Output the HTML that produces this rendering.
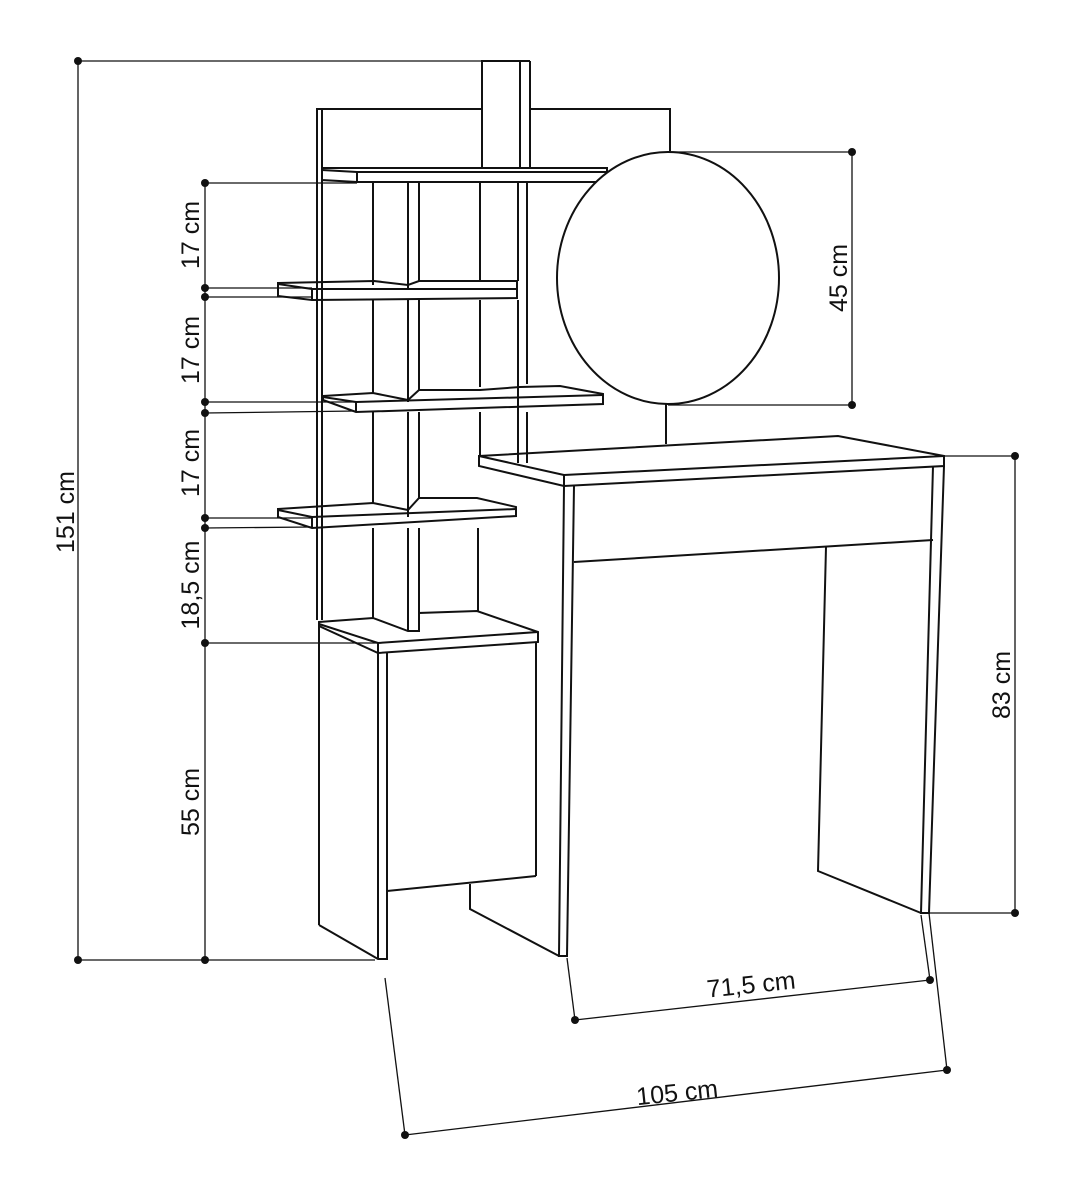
<!DOCTYPE html>
<html><head><meta charset="utf-8"><style>
html,body{margin:0;padding:0;background:#fff}
svg{display:block}
text{font-family:"Liberation Sans",sans-serif;font-size:25px;fill:#111}
</style></head><body>
<svg width="1076" height="1200" viewBox="0 0 1076 1200" xmlns="http://www.w3.org/2000/svg">
<g fill="none" stroke="#111" stroke-width="2" stroke-linejoin="miter">
<!-- back panel -->
<polyline points="482,109 317,109 317,620"/>
<line x1="322" y1="109" x2="322" y2="620"/>
<polyline points="530,109 670,109 670,151"/>
<line x1="666" y1="400" x2="666" y2="444"/>
<!-- post -->
<rect x="482" y="61" width="38" height="107"/>
<line x1="520" y1="61" x2="530" y2="61"/>
<line x1="530" y1="61" x2="530" y2="168"/>
<line x1="480" y1="182" x2="480" y2="282"/>
<line x1="480" y1="300" x2="480" y2="387"/>
<line x1="480" y1="412" x2="480" y2="456"/>
<line x1="518" y1="182" x2="518" y2="281"/>
<line x1="518" y1="300" x2="518" y2="463"/>
<line x1="527" y1="182" x2="527" y2="384"/>
<line x1="527" y1="412" x2="527" y2="463"/>
<!-- dividers -->
<line x1="373" y1="182" x2="373" y2="285"/><line x1="373" y1="300" x2="373" y2="393"/>
<line x1="373" y1="412" x2="373" y2="503"/><line x1="373" y1="528" x2="373" y2="618"/>
<line x1="408" y1="182" x2="408" y2="289"/><line x1="419" y1="182" x2="419" y2="282"/>
<line x1="408" y1="300" x2="408" y2="402"/><line x1="419" y1="300" x2="419" y2="390"/>
<line x1="408" y1="412" x2="408" y2="517"/><line x1="419" y1="412" x2="419" y2="498"/>
<line x1="408" y1="528" x2="408" y2="631"/><line x1="419" y1="528" x2="419" y2="613"/>
<line x1="408" y1="631" x2="419" y2="631"/><line x1="419" y1="613" x2="419" y2="631"/>
<line x1="478" y1="528" x2="478" y2="611"/>
<!-- shelf 1 -->
<polygon points="322,168 607,168 607,182 357,182 322,180"/>
<line x1="357" y1="172" x2="607" y2="172"/><line x1="357" y1="172" x2="357" y2="182"/><line x1="322" y1="170" x2="357" y2="172"/>
<!-- shelf 2 -->
<polygon points="278,283 374,281 408,285 419,281 517,281 517,298 312,300 278,296"/>
<line x1="312" y1="289" x2="517" y2="289"/><line x1="312" y1="289" x2="312" y2="300"/><line x1="278" y1="284" x2="312" y2="289"/>
<!-- shelf 3 -->
<polygon points="323,396 373,393 408,400 419,390 480,390 520,387 560,386 603,394 603,404 356,412 323,400"/>
<line x1="356" y1="402" x2="603" y2="395"/><line x1="356" y1="402" x2="356" y2="412"/><line x1="323" y1="397" x2="356" y2="402"/>
<!-- shelf 4 -->
<polygon points="278,509 373,503 408,510 419,498 477,498 516,507 516,516 312,528 278,517"/>
<line x1="312" y1="517" x2="516" y2="509"/><line x1="312" y1="517" x2="312" y2="528"/><line x1="278" y1="510" x2="312" y2="517"/>
<!-- cabinet -->
<polygon points="319,622 373,618 408,631 419,631 419,613 477,611 538,632 538,642 378,653 319,626"/>
<line x1="378" y1="643" x2="538" y2="632"/><line x1="378" y1="643" x2="378" y2="653"/><line x1="319" y1="624" x2="378" y2="643"/>
<line x1="319" y1="626" x2="319" y2="925"/>
<polyline points="319,925 378,959 387,959 387,653"/>
<line x1="378" y1="653" x2="378" y2="959"/>
<line x1="536" y1="642" x2="536" y2="876"/>
<line x1="387" y1="891" x2="536" y2="876"/>
<polyline points="470,884 470,909 559,956"/>
<!-- mirror -->
<ellipse cx="668" cy="278" rx="111" ry="126" fill="#fff"/>
<!-- desk top -->
<polygon points="479,456 838,436 944,456 944,466 564,486 479,466"/>
<line x1="564" y1="475" x2="944" y2="456"/><line x1="564" y1="475" x2="564" y2="486"/><line x1="479" y1="456" x2="564" y2="475"/>
<!-- left desk leg -->
<polyline points="564,486 559,956 567,956 574,486"/>
<line x1="574" y1="562" x2="933" y2="540"/>
<!-- right leg -->
<polyline points="944,466 929,913 921,913 933,466"/>
<polyline points="826,547 818,871 921,913"/>
</g>
<!-- dimensions -->
<g fill="none" stroke="#111" stroke-width="1.3">
<line x1="78" y1="61" x2="520" y2="61"/>
<line x1="78" y1="61" x2="78" y2="960"/>
<line x1="78" y1="960" x2="375" y2="960"/>
<line x1="205" y1="183" x2="205" y2="960"/>
<line x1="205" y1="183" x2="357" y2="183"/>
<line x1="205" y1="288" x2="312" y2="288"/>
<line x1="205" y1="297" x2="312" y2="297"/>
<line x1="205" y1="402" x2="356" y2="402"/>
<line x1="205" y1="413" x2="356" y2="411"/>
<line x1="205" y1="518" x2="312" y2="518"/>
<line x1="205" y1="528" x2="312" y2="527"/>
<line x1="205" y1="643" x2="378" y2="643"/>
<line x1="668" y1="152" x2="852" y2="152"/>
<line x1="668" y1="405" x2="852" y2="405"/>
<line x1="852" y1="152" x2="852" y2="405"/>
<line x1="944" y1="456" x2="1015" y2="456"/>
<line x1="929" y1="913" x2="1015" y2="913"/>
<line x1="1015" y1="456" x2="1015" y2="913"/>
<line x1="567" y1="958" x2="575" y2="1020"/>
<line x1="921" y1="915" x2="930" y2="980"/>
<line x1="575" y1="1020" x2="930" y2="980"/>
<line x1="385" y1="978" x2="405" y2="1135"/>
<line x1="929" y1="913" x2="947" y2="1070"/>
<line x1="405" y1="1135" x2="947" y2="1070"/>
</g>
<g fill="#111">
<circle cx="78" cy="61" r="4"/><circle cx="78" cy="960" r="4"/>
<circle cx="205" cy="183" r="4"/><circle cx="205" cy="288" r="4"/><circle cx="205" cy="297" r="4"/>
<circle cx="205" cy="402" r="4"/><circle cx="205" cy="413" r="4"/><circle cx="205" cy="518" r="4"/>
<circle cx="205" cy="528" r="4"/><circle cx="205" cy="643" r="4"/><circle cx="205" cy="960" r="4"/>
<circle cx="852" cy="152" r="4"/><circle cx="852" cy="405" r="4"/>
<circle cx="1015" cy="456" r="4"/><circle cx="1015" cy="913" r="4"/>
<circle cx="575" cy="1020" r="4"/><circle cx="930" cy="980" r="4"/>
<circle cx="405" cy="1135" r="4"/><circle cx="947" cy="1070" r="4"/>
</g>
<g text-anchor="middle">
<text transform="translate(74,512) rotate(-90)">151 cm</text>
<text transform="translate(199,235) rotate(-90)">17 cm</text>
<text transform="translate(199,350) rotate(-90)">17 cm</text>
<text transform="translate(199,463) rotate(-90)">17 cm</text>
<text transform="translate(199,585) rotate(-90)">18,5 cm</text>
<text transform="translate(199,802) rotate(-90)">55 cm</text>
<text transform="translate(847,278) rotate(-90)">45 cm</text>
<text transform="translate(1010,685) rotate(-90)">83 cm</text>
<text transform="translate(752,993) rotate(-6)">71,5 cm</text>
<text transform="translate(678,1101) rotate(-6)">105 cm</text>
</g>
</svg>
</body></html>
